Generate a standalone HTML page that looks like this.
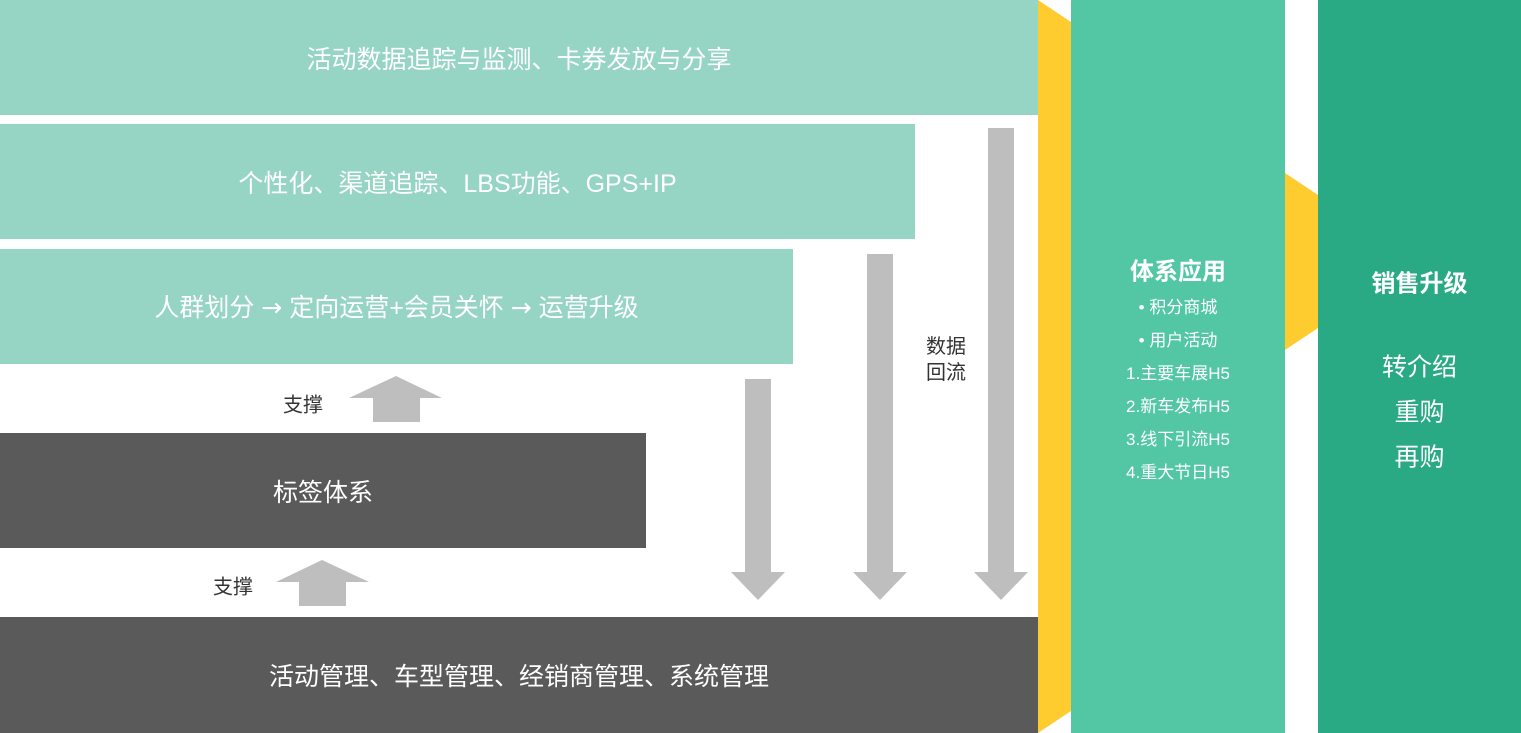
<!DOCTYPE html>
<html><head><meta charset="utf-8"><style>
body{margin:0;width:1521px;height:733px;overflow:hidden;background:#fff;font-family:"Liberation Sans","Noto Sans CJK SC",sans-serif;}
.a{position:absolute;}
.t{position:absolute;color:#fff;font-size:25px;text-align:center;transform:translateY(-50%);white-space:nowrap;}
</style></head><body>
<svg class="a" style="left:0;top:0" width="1521" height="733">
<rect x="0" y="0" width="1038" height="115" fill="#96d4c3"/>
<rect x="0" y="124" width="915" height="115" fill="#96d4c3"/>
<rect x="0" y="249" width="793" height="115" fill="#96d4c3"/>
<rect x="0" y="433" width="646" height="115" fill="#5a5a5a"/>
<rect x="0" y="617" width="1038" height="116" fill="#5a5a5a"/>
<polygon points="1038,0 1071,22 1071,711 1038,733" fill="#fecc2f"/>
<rect x="1071" y="0" width="214" height="733" fill="#53c7a4"/>
<polygon points="1285,173 1318,195 1318,328 1285,350" fill="#fecc2f"/>
<rect x="1318" y="0" width="203" height="733" fill="#2aa985"/>
<g fill="#bebebe">
<polygon points="745,379 771,379 771,572 785,572 758,600 731,572 745,572"/>
<polygon points="867,254 893,254 893,572 907,572 880,600 853,572 867,572"/>
<polygon points="988,128 1014,128 1014,572 1028,572 1001,600 974,572 988,572"/>
<polygon points="396,376 442,398 420,398 420,422 373,422 373,398 349,398"/>
<polygon points="322,560 369,582 346,582 346,606 299,606 299,582 276,582"/>
</g>
</svg>
<div class="t" style="left:0;width:1038px;top:58px">活动数据追踪与监测、卡券发放与分享</div>
<div class="t" style="left:0;width:915px;top:182px">个性化、渠道追踪、LBS功能、GPS+IP</div>
<div class="t" style="left:0;width:793px;top:306px">人群划分 <span style="font-family:'DejaVu Sans',sans-serif">→</span> 定向运营+会员关怀 <span style="font-family:'DejaVu Sans',sans-serif">→</span> 运营升级</div>
<div class="t" style="left:0;width:646px;top:491px">标签体系</div>
<div class="t" style="left:0;width:1038px;top:675px">活动管理、车型管理、经销商管理、系统管理</div>
<div class="t" style="left:273px;width:60px;top:403px;color:#333;font-size:20px">支撑</div>
<div class="t" style="left:203px;width:60px;top:585px;color:#333;font-size:20px">支撑</div>
<div class="t" style="left:916px;width:60px;top:360px;color:#333;font-size:20px;line-height:26px">数据<br>回流</div>
<div class="t" style="left:1071px;width:214px;top:269px;font-size:24px;font-weight:bold">体系应用</div>
<div class="t" style="left:1071px;width:214px;top:390px;font-size:17px;line-height:33px">• 积分商城<br>• 用户活动<br>1.主要车展H5<br>2.新车发布H5<br>3.线下引流H5<br>4.重大节日H5</div>
<div class="t" style="left:1318px;width:203px;top:281px;font-size:24px;font-weight:bold">销售升级</div>
<div class="t" style="left:1318px;width:203px;top:413px;font-size:25px;line-height:45px">转介绍<br>重购<br>再购</div>
</body></html>
